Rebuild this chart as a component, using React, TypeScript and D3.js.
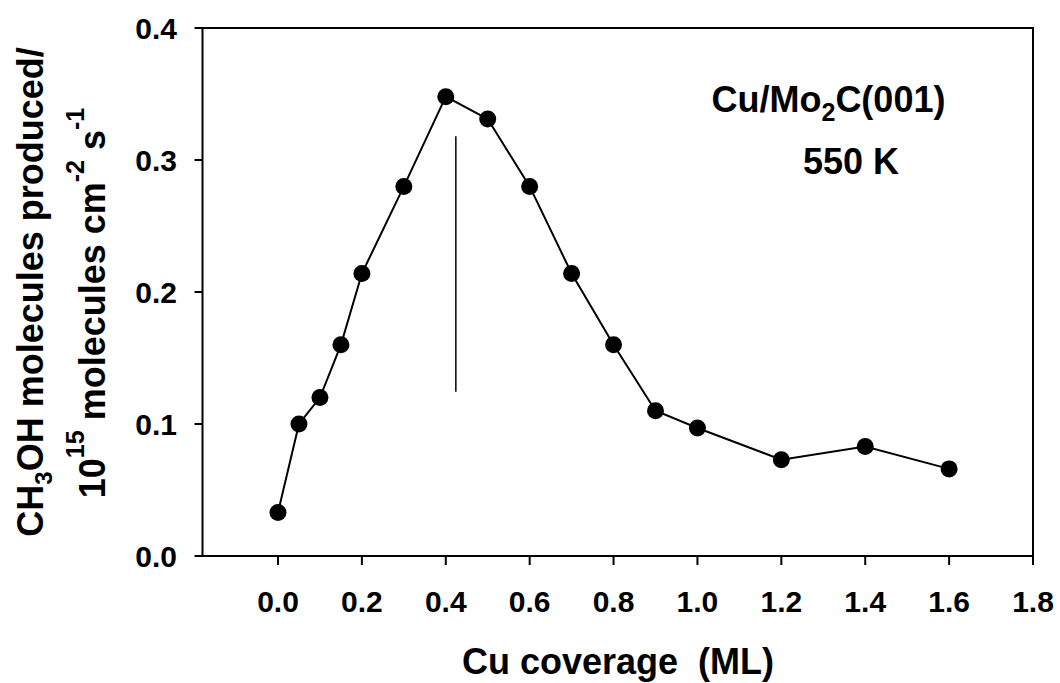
import * as d3 from "d3";

const coverage = [0, 0.05, 0.1, 0.15, 0.2, 0.3, 0.4, 0.5, 0.6, 0.7, 0.8, 0.9, 1.0, 1.2, 1.4, 1.6];
const rate = [0.033, 0.1, 0.12, 0.16, 0.214, 0.28, 0.348, 0.331, 0.28, 0.214, 0.16, 0.11, 0.097, 0.073, 0.083, 0.066];
const xTicks = [0, 0.2, 0.4, 0.6, 0.8, 1.0, 1.2, 1.4, 1.6, 1.8];
const yTicks = [0, 0.1, 0.2, 0.3, 0.4];
// the thin vertical marker near the peak
const markerX = 0.424;
const markerY = [0.1245, 0.318];

const width = 1060;
const height = 683;
const font = "'Liberation Sans', Arial, sans-serif";

export default function App() {
  const x = d3.scaleLinear().domain([-0.18, 1.8]).range([202.5, 1033]);
  const y = d3.scaleLinear().domain([0, 0.4]).range([556, 28]);

  const pts = coverage.map((c, i) => [c, rate[i]] as [number, number]);
  const line = d3
    .line<[number, number]>()
    .x((d) => x(d[0]))
    .y((d) => y(d[1]));

  const [x0, x1] = x.range();
  const [y0, y1] = y.range();

  return (
    <svg
      width={width}
      height={height}
      style={{ position: "absolute", left: 0, top: 0, background: "#fff" }}
      fontFamily={font}
      fontWeight="bold"
    >
      {/* frame */}
      <rect x={x0} y={y1} width={x1 - x0} height={y0 - y1} fill="none" stroke="#000" strokeWidth={2} />

      {/* x axis ticks */}
      {xTicks.map((t) => (
        <g key={"x" + t}>
          <line x1={x(t)} x2={x(t)} y1={y0} y2={y0 + 9} stroke="#000" strokeWidth={2} />
          <text x={x(t)} y={612} textAnchor="middle" fontSize={30}>
            {t.toFixed(1)}
          </text>
        </g>
      ))}

      {/* y axis ticks */}
      {yTicks.map((t) => (
        <g key={"y" + t}>
          <line x1={x0 - 8} x2={x0} y1={y(t)} y2={y(t)} stroke="#000" strokeWidth={2} />
          <text x={177} y={y(t)} dy="0.36em" textAnchor="end" fontSize={30}>
            {t.toFixed(1)}
          </text>
        </g>
      ))}

      {/* data */}
      <path d={line(pts) ?? ""} fill="none" stroke="#000" strokeWidth={2} />
      {pts.map((d, i) => (
        <circle key={i} cx={x(d[0])} cy={y(d[1])} r={8.5} fill="#000" />
      ))}

      <line
        x1={x(markerX)}
        x2={x(markerX)}
        y1={y(markerY[0])}
        y2={y(markerY[1])}
        stroke="#000"
        strokeWidth={1.5}
      />

      {/* annotation */}
      <text x={711.5} y={111.5} fontSize={36}>
        Cu/Mo
        <tspan fontSize={25} dy={9}>2</tspan>
        <tspan dy={-9}>C(001)</tspan>
      </text>
      <text x={803} y={173.5} fontSize={36}>
        550 K
      </text>

      {/* x title */}
      <text x={618} y={674} textAnchor="middle" fontSize={36} style={{ whiteSpace: "pre" }}>
        Cu coverage{"  "}(ML)
      </text>

      {/* y title */}
      <text transform="translate(43,292) rotate(-90)" textAnchor="middle" fontSize={36}>
        CH
        <tspan fontSize={24} dy={9}>3</tspan>
        <tspan dy={-9}>OH molecules produced/</tspan>
      </text>
      <text transform="translate(105,303) rotate(-90)" textAnchor="middle" fontSize={36}>
        10
        <tspan fontSize={25} dy={-21}>15</tspan>
        <tspan dy={21}> molecules cm</tspan>
        <tspan fontSize={25} dy={-21}>-2</tspan>
        <tspan dy={21}> s</tspan>
        <tspan fontSize={25} dy={-21}>-1</tspan>
      </text>
    </svg>
  );
}
